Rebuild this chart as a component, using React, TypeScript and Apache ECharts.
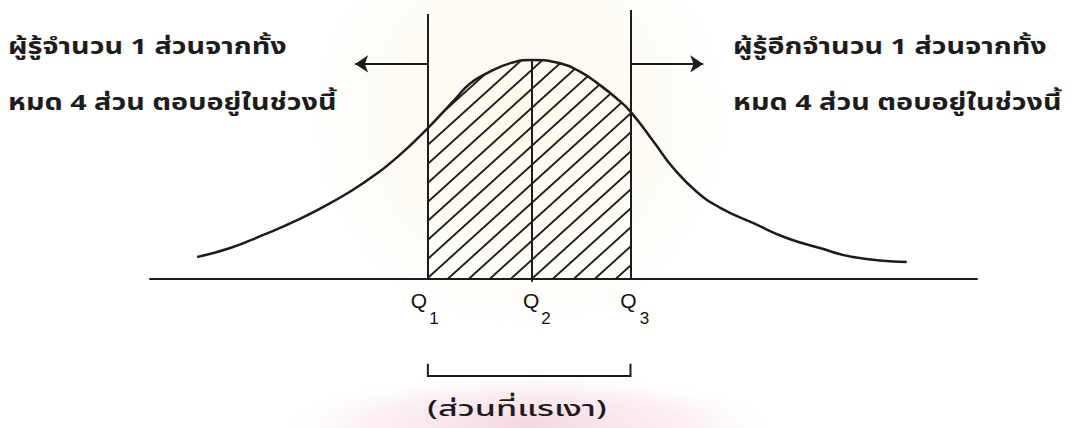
import React, { useEffect, useRef } from "react";
import * as echarts from "echarts";

// Normal-like curve (x: score scale 0-100, y: relative frequency 0-100)
const curveX = [5.7, 9.7, 13.7, 17.8, 21.8, 25.8, 29.9, 33.6, 36.9, 38.7, 40.7, 43.5, 46.2, 49.6, 52.0, 54.4, 56.4, 58.1, 60.9, 63.3, 66.1, 68.9, 72.9, 77.0, 81.0, 85.0, 91.5];
const curveY = [7.9, 11.1, 15.8, 21.1, 27.2, 34.4, 43.7, 54.1, 64.5, 70.1, 73.7, 77.3, 78.5, 77.3, 74.3, 69.5, 64.8, 60.0, 49.2, 39.7, 31.3, 25.6, 20.1, 14.7, 11.1, 7.9, 6.1];

// Quartile positions and heights of their vertical lines
const quartileNames = ["Q1", "Q2", "Q3"];
const quartileX = [33.6, 46.2, 58.1];
const quartileTop = [95.0, 78.5, 96.4];
const quartileBottom = [0, -1, 0];
const quartileSub = ["1", "2", "3"];

// Arrow levels and ends
const arrowLevel = 77.1;
const leftArrowEnd = 24.8;
const rightArrowEnd = 66.9;

// Bracket under the shaded part
const bracketTop = -30.4;
const bracketBottom = -34.8;

// Texts
const leftNote = ["ผู้รู้จำนวน 1 ส่วนจากทั้ง", "หมด 4 ส่วน ตอบอยู่ในช่วงนี้"];
const rightNote = ["ผู้รู้อีกจำนวน 1 ส่วนจากทั้ง", "หมด 4 ส่วน ตอบอยู่ในช่วงนี้"];
const bracketLabel = "(ส่วนที่แรเงา)";

const INK = "#1c1c1c";
const THAI_FONT = "'Noto Sans Thai', 'Noto Sans Thai UI', 'Noto Sans', 'DejaVu Sans', sans-serif";
const LATIN_FONT = "'Liberation Sans', Arial, sans-serif";

// layout of the plotting area (pixels)
const GRID_LEFT = 150;
const GRID_RIGHT = 103;
const GRID_BOTTOM = 149;
const CHART_W = 1080;
const X_MIN = 0;
const X_MAX = 100;

// hatch tile (one diagonal per tile)
const HATCH_W = 21;
const HATCH_H = 19;

function makeHatch(): HTMLCanvasElement {
  const w = HATCH_W;
  const h = HATCH_H;
  const c = document.createElement("canvas");
  c.width = w;
  c.height = h;
  const ctx = c.getContext("2d")!;
  ctx.strokeStyle = INK;
  ctx.lineWidth = 1.9;
  for (const n of [0, 1, 2]) {
    ctx.beginPath();
    ctx.moveTo(n * w + w, -h);
    ctx.lineTo(n * w - 2 * w, 2 * h);
    ctx.stroke();
  }
  return c;
}

export default function App() {
  const ref = useRef<HTMLDivElement>(null);

  useEffect(() => {
    document.body.style.margin = "0";
    if (!ref.current) return;
    const chart = echarts.init(ref.current, undefined, { renderer: "svg" });

    const curve = curveX.map((x, i) => [x, curveY[i]]);

    // second grid covering exactly Q1..Q3 with the same pixel scale (clips the hatched area)
    const plotW = CHART_W - GRID_LEFT - GRID_RIGHT;
    const toPx = (v: number) => GRID_LEFT + ((v - X_MIN) / (X_MAX - X_MIN)) * plotW;
    const q1Px = toPx(quartileX[0]);
    const q3Px = toPx(quartileX[2]);

    const qLines = quartileX.map((x, i) => ({
      coords: [
        [x, quartileBottom[i]],
        [x, quartileTop[i]],
      ],
    }));

    const qLetterOffsets = [[-9, 21], [-1, 21], [-2, 21]];
    const qSubOffsets = [[6, 39], [14, 39], [14, 39]];

    const noteText = (lines: string[], x: number, ys: number[]) =>
      lines.map((t, i) => ({
        type: "text",
        x,
        y: ys[i],
        scaleX: 1.37,
        scaleY: 1.05,
        style: {
          text: t,
          fill: INK,
          font: `bold 21px ${THAI_FONT}`,
          align: "left",
          verticalAlign: "middle",
        },
      }));

    const hatchImg = makeHatch();

    const option: any = {
      animation: false,
      backgroundColor: "#ffffff",
      grid: [
        { left: GRID_LEFT, right: GRID_RIGHT, top: 0, bottom: GRID_BOTTOM, containLabel: false },
        { left: q1Px, right: CHART_W - q3Px, top: 0, bottom: GRID_BOTTOM, containLabel: false },
      ],
      xAxis: [
        {
          type: "value",
          gridIndex: 0,
          min: X_MIN,
          max: X_MAX,
          axisLine: { show: true, lineStyle: { color: INK, width: 2 } },
          axisTick: { show: false },
          axisLabel: { show: false },
          splitLine: { show: false },
        },
        {
          type: "value",
          gridIndex: 1,
          min: quartileX[0],
          max: quartileX[2],
          show: false,
          splitLine: { show: false },
        },
      ],
      yAxis: [
        { type: "value", gridIndex: 0, min: 0, max: 100, show: false, splitLine: { show: false } },
        { type: "value", gridIndex: 1, min: 0, max: 100, show: false, splitLine: { show: false } },
      ],
      graphic: [
        {
          type: "circle",
          shape: { cx: 520, cy: 120, r: 250 },
          z: -10,
          silent: true,
          style: {
            fill: new echarts.graphic.RadialGradient(0.5, 0.5, 0.5, [
              { offset: 0, color: "rgba(250,242,212,0.45)" },
              { offset: 0.6, color: "rgba(251,245,225,0.3)" },
              { offset: 1, color: "rgba(255,255,255,0)" },
            ]),
          },
        },
        {
          type: "ellipse",
          shape: { cx: 530, cy: 425, rx: 260, ry: 55 },
          z: -10,
          silent: true,
          style: {
            fill: new echarts.graphic.RadialGradient(0.5, 0.5, 0.5, [
              { offset: 0, color: "rgba(244,208,218,0.85)" },
              { offset: 0.6, color: "rgba(247,222,228,0.5)" },
              { offset: 1, color: "rgba(255,255,255,0)" },
            ]),
          },
        },
        ...noteText(leftNote, 8, [48, 104]),
        ...noteText(rightNote, 733, [48, 104]),
        {
          type: "text",
          x: 517,
          y: 409,
          scaleX: 1.55,
          style: {
            text: bracketLabel,
            fill: INK,
            font: `500 22px ${THAI_FONT}`,
            align: "center",
            verticalAlign: "middle",
          },
        },
      ],
      series: [
        {
          name: "shaded",
          type: "line",
          xAxisIndex: 1,
          yAxisIndex: 1,
          data: curve,
          smooth: 0.5,
          symbol: "none",
          clip: true,
          z: 1,
          lineStyle: { width: 0 },
          areaStyle: {
            color: { image: hatchImg, repeat: "repeat" },
            opacity: 1,
          },
        },
        {
          name: "curve",
          type: "line",
          data: curve,
          smooth: 0.5,
          symbol: "none",
          z: 3,
          lineStyle: { color: INK, width: 2.5 },
        },
        {
          name: "quartiles",
          type: "lines",
          coordinateSystem: "cartesian2d",
          clip: false,
          z: 4,
          lineStyle: { color: INK, width: 2, opacity: 1 },
          data: qLines,
        },
        {
          name: "arrows",
          type: "lines",
          coordinateSystem: "cartesian2d",
          clip: false,
          z: 4,
          symbol: ["none", "arrow"],
          symbolSize: 13,
          lineStyle: { color: INK, width: 2, opacity: 1 },
          data: [
            { coords: [[quartileX[0], arrowLevel], [leftArrowEnd, arrowLevel]] },
            { coords: [[quartileX[2], arrowLevel], [rightArrowEnd, arrowLevel]] },
          ],
        },
        {
          name: "bracket",
          type: "lines",
          coordinateSystem: "cartesian2d",
          polyline: true,
          clip: false,
          z: 4,
          lineStyle: { color: INK, width: 2, opacity: 1 },
          data: [
            {
              coords: [
                [quartileX[0], bracketTop],
                [quartileX[0], bracketBottom],
                [quartileX[2], bracketBottom],
                [quartileX[2], bracketTop],
              ],
            },
          ],
        },
        {
          name: "qLetters",
          type: "scatter",
          symbolSize: 0,
          clip: false,
          z: 5,
          itemStyle: { opacity: 1 },
          data: quartileX.map((x, i) => ({
            value: [x, 0],
            name: quartileNames[i],
            label: { offset: qLetterOffsets[i] },
          })),
          label: {
            show: true,
            position: "inside",
            formatter: "Q",
            color: "#111",
            fontSize: 21,
            fontFamily: LATIN_FONT,
          },
        },
        {
          name: "qSubs",
          type: "scatter",
          symbolSize: 0,
          clip: false,
          z: 5,
          itemStyle: { opacity: 1 },
          data: quartileX.map((x, i) => ({
            value: [x, 0],
            name: quartileSub[i],
            label: { offset: qSubOffsets[i] },
          })),
          label: {
            show: true,
            position: "inside",
            formatter: (p: any) => p.name,
            color: "#111",
            fontSize: 17,
            fontFamily: LATIN_FONT,
          },
        },
      ],
    };

    chart.setOption(option);
    return () => chart.dispose();
  }, []);

  return <div ref={ref} style={{ width: 1080, height: 428 }} />;
}
